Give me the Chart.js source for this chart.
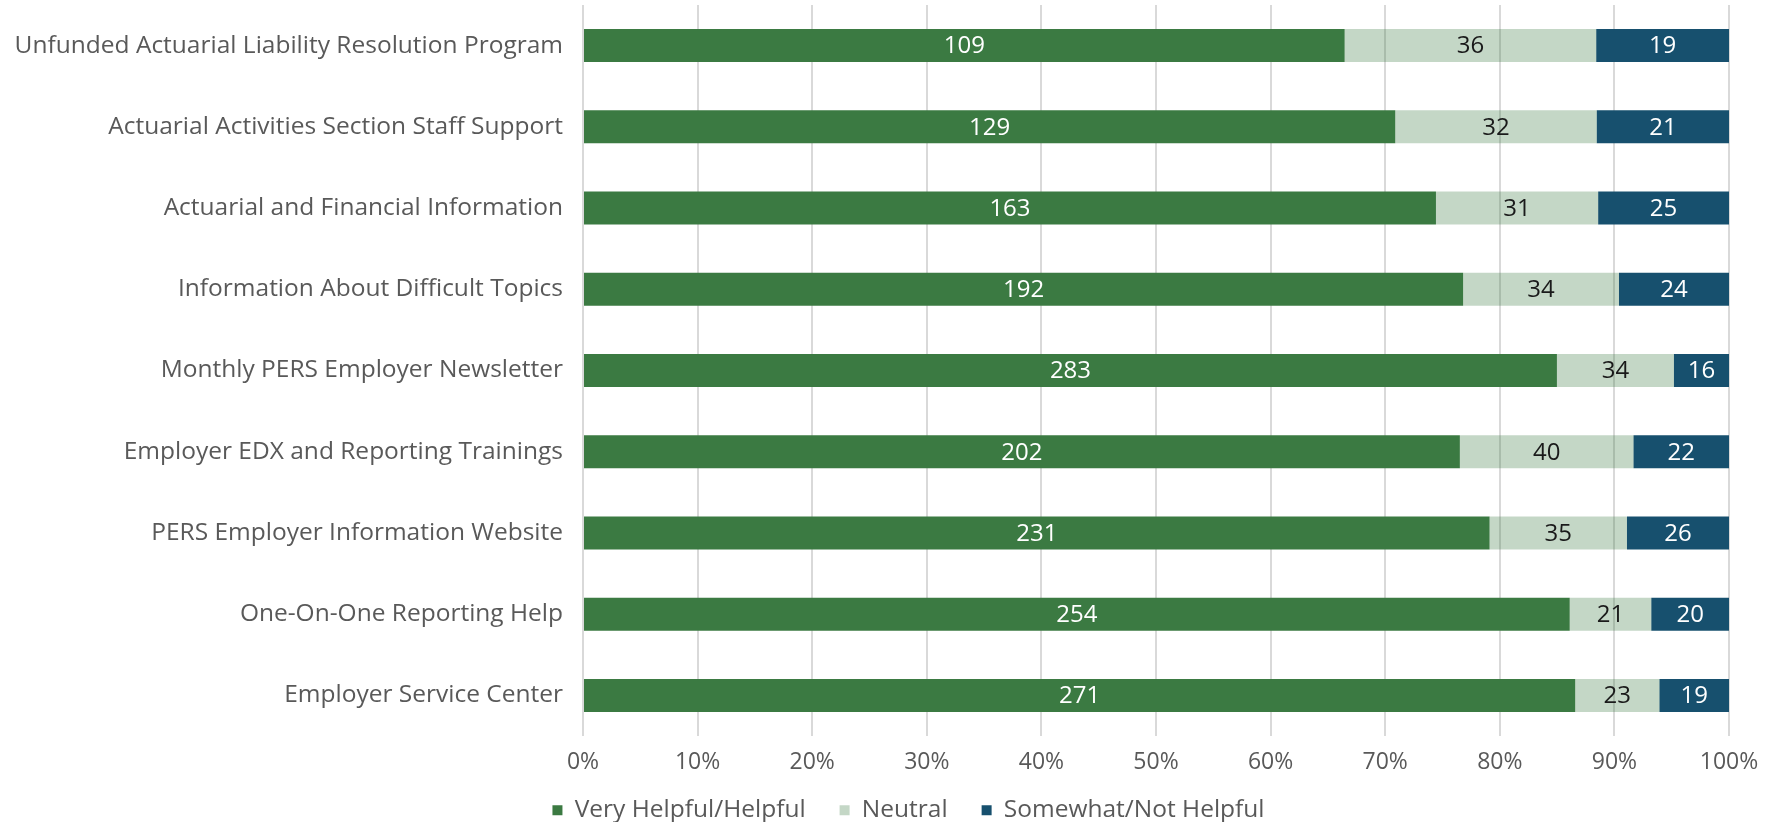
<!DOCTYPE html>
<html>
<head>
<meta charset="utf-8">
<script src="https://cdn.jsdelivr.net/npm/chart.js@4"></script>
<style>
  html, body { margin: 0; padding: 0; background: #fff; }
  #wrap { width: 1765px; height: 822px; }
</style>
</head>
<body>
<div id="wrap"><canvas id="chart"></canvas></div>
<script>
// survey answers per resource (counts), top row first
const categories = [
  "Unfunded Actuarial Liability Resolution Program",
  "Actuarial Activities Section Staff Support",
  "Actuarial and Financial Information",
  "Information About Difficult Topics",
  "Monthly PERS Employer Newsletter",
  "Employer EDX and Reporting Trainings",
  "PERS Employer Information Website",
  "One-On-One Reporting Help",
  "Employer Service Center"
];
const helpful = [109, 129, 163, 192, 283, 202, 231, 254, 271];
const neutral = [36, 32, 31, 34, 34, 40, 35, 21, 23];
const notHelpful = [19, 21, 25, 24, 16, 22, 26, 20, 19];
const seriesNames = ["Very Helpful/Helpful", "Neutral", "Somewhat/Not Helpful"];
const xTicks = ["0%", "10%", "20%", "30%", "40%", "50%", "60%", "70%", "80%", "90%", "100%"];

const FONT = "'Open Sans', sans-serif";
const GREY = "#595959";
const PAD_LEFT = 4;
const AXIS_X = 583;     // left edge of the plot area
const LEGEND_PAD = 34;  // gap between legend items
const LEGEND_H = 44;    // reserved height for the legend row
const LEGEND_DX = 42;   // legend sits a little right of page centre
const LEGEND_DY = -14;

// 100% stacked: each bar is its share of the row total
const totals = helpful.map((v, i) => v + neutral[i] + notHelpful[i]);
const share = arr => arr.map((v, i) => v / totals[i] * 100);
const counts = [helpful, neutral, notHelpful];

// draws the raw counts centred in each segment
const countLabels = {
  id: "countLabels",
  afterDatasetsDraw(chart) {
    const ctx = chart.ctx;
    ctx.save();
    ctx.font = "24px " + FONT;
    ctx.textAlign = "center";
    ctx.textBaseline = "middle";
    chart.data.datasets.forEach((ds, di) => {
      const meta = chart.getDatasetMeta(di);
      ctx.fillStyle = di === 1 ? "#1a1a1a" : "#fff";
      meta.data.forEach((bar, i) => {
        const cx = (bar.x + bar.base) / 2;
        ctx.fillText(String(counts[di][i]), cx, bar.y + 1);
      });
    });
    ctx.restore();
  }
};

// legend needs big padding for the wide item gaps, so cap its height
// and move it into place once the layout is done
const legendFit = {
  id: "legendFit",
  afterInit(chart) {
    const lg = chart.legend;
    if (!lg) return;
    const fit = lg.fit;
    lg.fit = function () { fit.call(this); this.height = LEGEND_H; };
  },
  afterLayout(chart) {
    const lg = chart.legend;
    if (!lg) return;
    lg.left += LEGEND_DX; lg.right += LEGEND_DX;
    lg.top += LEGEND_DY;
    lg.bottom = chart.height;
  }
};

new Chart(document.getElementById("chart"), {
  type: "bar",
  data: {
    labels: categories,
    datasets: [
      { label: seriesNames[0], data: share(helpful), backgroundColor: "#3b7a42" },
      { label: seriesNames[1], data: share(neutral), backgroundColor: "rgba(59,122,66,0.3)" },
      { label: seriesNames[2], data: share(notHelpful), backgroundColor: "#17506e" }
    ]
  },
  options: {
    indexAxis: "y",
    responsive: true,
    maintainAspectRatio: false,
    animation: false,
    barPercentage: 0.406,
    categoryPercentage: 1,
    layout: { padding: { top: 5, right: 36, bottom: 0, left: PAD_LEFT } },
    scales: {
      x: {
        stacked: true,
        min: 0,
        max: 100,
        grid: { color: "#d9d9d9", lineWidth: 2, drawTicks: false },
        border: { display: false },
        afterFit: s => { s.height = 42; s.paddingLeft = 0; s.paddingRight = 0; },
        ticks: {
          stepSize: 10,
          padding: 13,
          color: GREY,
          font: { family: FONT, size: 23 },
          callback: (v, i) => xTicks[i]
        }
      },
      y: {
        stacked: true,
        grid: { display: false, drawTicks: false },
        border: { display: false },
        afterFit: s => { s.width = AXIS_X - PAD_LEFT; s.paddingTop = 0; s.paddingBottom = 0; },
        ticks: { padding: 20, color: GREY, font: { family: FONT, size: 24.5 } }
      }
    },
    plugins: {
      legend: {
        position: "bottom",
        labels: {
          boxWidth: 10,
          boxHeight: 10,
          padding: LEGEND_PAD,
          color: GREY,
          font: { family: FONT, size: 24.5 }
        }
      },
      tooltip: { enabled: false }
    }
  },
  plugins: [countLabels, legendFit]
});
</script>
</body>
</html>
